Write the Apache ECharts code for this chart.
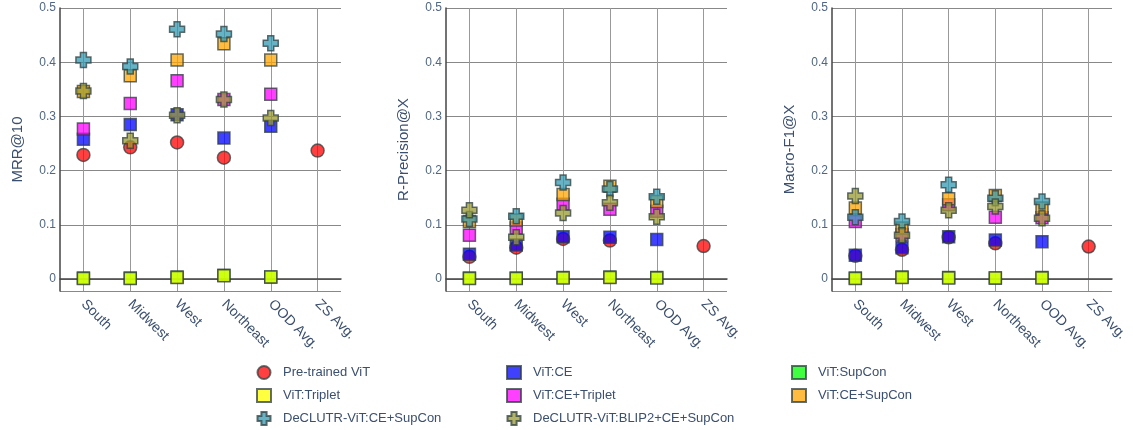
<!DOCTYPE html>
<html>
<head>
<meta charset="utf-8">
<script src="https://cdn.jsdelivr.net/npm/echarts@6/dist/echarts.min.js"></script>
<style>html,body{margin:0;padding:0;background:#fff}#c{width:1133px;height:430px}</style>
</head>
<body>
<div id="c"></div>
<script>
const categories = ['South', 'Midwest', 'West', 'Northeast', 'OOD Avg.', 'ZS Avg.'];
const metricNames = ['MRR@10', 'R-Precision@X', 'Macro-F1@X'];
const yTicks = [0, 0.1, 0.2, 0.3, 0.4, 0.5];

const seriesNames = ['Pre-trained ViT', 'ViT:CE', 'ViT:SupCon', 'ViT:Triplet', 'ViT:CE+Triplet', 'ViT:CE+SupCon', 'DeCLUTR-ViT:CE+SupCon', 'DeCLUTR-ViT:BLIP2+CE+SupCon'];

// MRR@10
const mrrPretrained = [0.229, 0.243, 0.252, 0.224, null, 0.237];
const mrrCE         = [0.258, 0.285, 0.303, 0.260, 0.282, null];
const mrrSupCon     = [0.002, 0.002, 0.004, 0.007, 0.004, null];
const mrrTriplet    = [0.001, 0.001, 0.003, 0.006, 0.004, null];
const mrrCETriplet  = [0.277, 0.324, 0.366, 0.331, 0.341, null];
const mrrCESupCon   = [0.346, 0.375, 0.404, 0.434, 0.404, null];
const mrrDeclutr    = [0.404, 0.392, 0.461, 0.452, 0.435, null];
const mrrBlip2      = [0.347, 0.255, 0.302, 0.331, 0.297, null];

// R-Precision@X
const rpPretrained = [0.041, 0.058, 0.074, 0.071, null, 0.061];
const rpCE         = [0.046, 0.063, 0.078, 0.077, 0.073, null];
const rpSupCon     = [0.002, 0.002, 0.003, 0.004, 0.003, null];
const rpTriplet    = [0.001, 0.001, 0.002, 0.003, 0.002, null];
const rpCETriplet  = [0.081, 0.094, 0.138, 0.129, 0.125, null];
const rpCESupCon   = [0.106, 0.109, 0.156, 0.171, 0.143, null];
const rpDeclutr    = [0.111, 0.116, 0.178, 0.166, 0.152, null];
const rpBlip2      = [0.127, 0.077, 0.122, 0.141, 0.115, null];

// Macro-F1@X
const f1Pretrained = [0.043, 0.054, 0.077, 0.066, null, 0.060];
const f1CE         = [0.044, 0.058, 0.078, 0.072, 0.069, null];
const f1SupCon     = [0.002, 0.004, 0.003, 0.002, 0.003, null];
const f1Triplet    = [0.001, 0.003, 0.002, 0.002, 0.002, null];
const f1CETriplet  = [0.106, 0.082, 0.137, 0.114, 0.113, null];
const f1CESupCon   = [0.131, 0.094, 0.148, 0.154, 0.131, null];
const f1Declutr    = [0.114, 0.106, 0.174, 0.149, 0.143, null];
const f1Blip2      = [0.153, 0.081, 0.127, 0.134, 0.112, null];

const panels = [
  [mrrPretrained, mrrCE, mrrSupCon, mrrTriplet, mrrCETriplet, mrrCESupCon, mrrDeclutr, mrrBlip2],
  [rpPretrained, rpCE, rpSupCon, rpTriplet, rpCETriplet, rpCESupCon, rpDeclutr, rpBlip2],
  [f1Pretrained, f1CE, f1SupCon, f1Triplet, f1CETriplet, f1CESupCon, f1Declutr, f1Blip2]
];

const CROSS = 'path://M3,0 L7,0 L7,3 L10,3 L10,7 L7,7 L7,10 L3,10 L3,7 L0,7 L0,3 L3,3 Z';
const styles = [
  {symbol: 'circle', size: 13, color: '#ff0000'},
  {symbol: 'rect', size: 12, color: '#0000ff'},
  {symbol: 'rect', size: 12, color: '#00ff00'},
  {symbol: 'rect', size: 12, color: '#ffff00'},
  {symbol: 'rect', size: 12, color: '#ff00ff'},
  {symbol: 'rect', size: 12, color: '#ffa500'},
  {symbol: CROSS, size: 15, color: '#3399b3'},
  {symbol: CROSS, size: 15, color: '#999933'}
];

const FONT = 'Liberation Sans, Arial, sans-serif';
const gridLefts = [60, 446, 832];
const gridWidths = [281, 281, 280];

const grids = [], xAxes = [], yAxes = [], series = [];
for (let p = 0; p < 3; p++) {
  grids.push({left: gridLefts[p], width: gridWidths[p], top: 8, height: 283, containLabel: false});
  xAxes.push({
    type: 'category', gridIndex: p, data: categories, boundaryGap: true,
    axisLine: {show: true, lineStyle: {color: '#444', width: 1.5}},
    axisTick: {show: false, alignWithLabel: true},
    splitLine: {show: true, alignWithLabel: true, lineStyle: {color: '#999', width: 1}},
    axisLabel: {rotate: -45, margin: 11, fontSize: 14, color: '#3b4f6e', fontFamily: FONT, interval: 0}
  });
  yAxes.push({
    type: 'value', gridIndex: p, min: -0.022, max: 0.5, splitNumber: 5,
    name: metricNames[p], nameLocation: 'middle', nameGap: 35, nameRotate: 90,
    nameTextStyle: {fontSize: 15, color: '#3b4f6e', fontFamily: FONT},
    axisLine: {show: true, lineStyle: {color: '#444', width: 1.5}},
    axisTick: {show: false},
    splitLine: {show: true, lineStyle: {color: '#888', width: 1}},
    axisLabel: {
      showMinLabel: false, margin: 4, fontSize: 12, color: '#506784', fontFamily: FONT,
      formatter: v => (yTicks.some(t => Math.abs(t - v) < 1e-9) ? String(Math.round(v * 10) / 10) : '')
    }
  });
  panels[p].forEach((vals, s) => {
    series.push({
      type: 'scatter', name: seriesNames[s], xAxisIndex: p, yAxisIndex: p,
      symbol: styles[s].symbol, symbolSize: styles[s].size,
      itemStyle: {color: styles[s].color, opacity: 0.75, borderColor: '#2f3f3f', borderWidth: 1.5},
      emphasis: {disabled: true},
      data: vals.map(v => (v == null ? '-' : v)),
      z: 2 + s
    });
  });
}

const legendBase = {
  orient: 'vertical', top: 365, height: 66, padding: 0, itemWidth: 14, itemHeight: 13, itemGap: 8,
  textStyle: {fontSize: 13, color: '#3b4f6e', fontFamily: FONT, lineHeight: 14, padding: [0, 0, 0, 7]},
  selectedMode: false
};
const legends = [
  Object.assign({}, legendBase, {left: 256, data: ['Pre-trained ViT', 'ViT:Triplet', 'DeCLUTR-ViT:CE+SupCon']}),
  Object.assign({}, legendBase, {left: 506, data: ['ViT:CE', 'ViT:CE+Triplet', 'DeCLUTR-ViT:BLIP2+CE+SupCon']}),
  Object.assign({}, legendBase, {left: 791, data: ['ViT:SupCon', 'ViT:CE+SupCon']})
];

const chart = echarts.init(document.getElementById('c'), null, {renderer: 'canvas'});
chart.setOption({
  animation: false,
  backgroundColor: '#fff',
  grid: grids, xAxis: xAxes, yAxis: yAxes, series: series, legend: legends
});
</script>
</body>
</html>
